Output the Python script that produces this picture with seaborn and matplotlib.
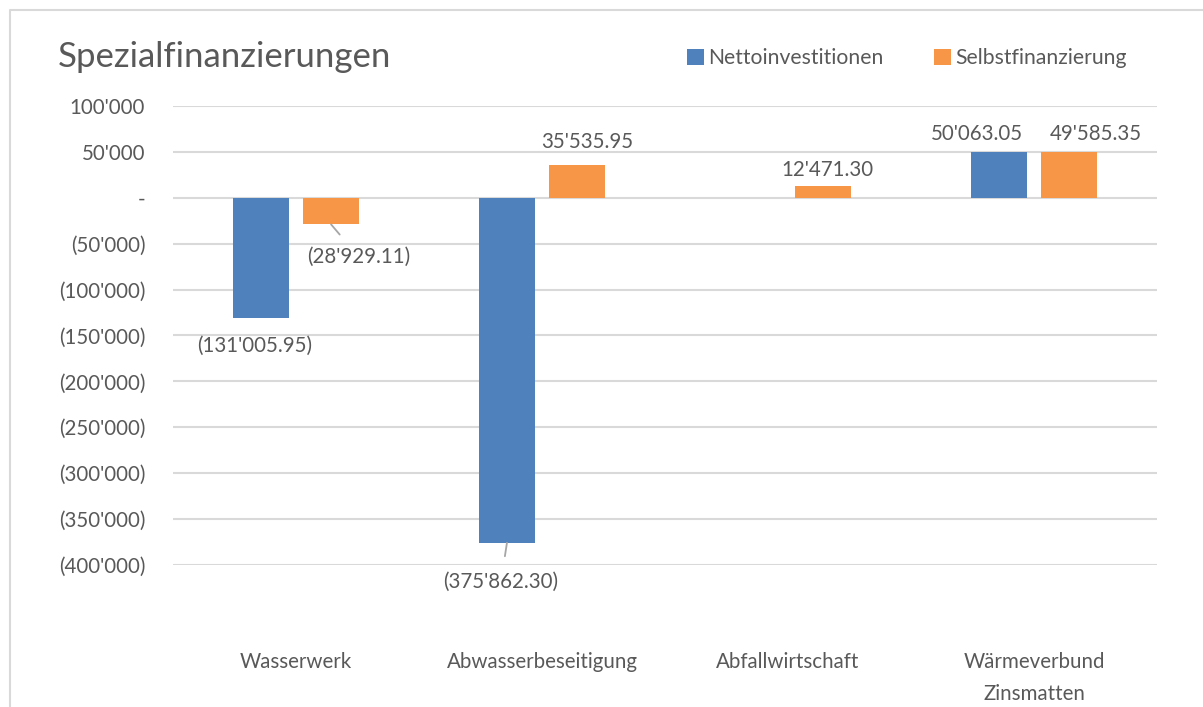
import numpy as np
import pandas as pd
import matplotlib
matplotlib.use("Agg")
import matplotlib.pyplot as plt
import seaborn as sns
from matplotlib.lines import Line2D
from matplotlib.ticker import FuncFormatter

categories = ["Wasserwerk", "Abwasserbeseitigung", "Abfallwirtschaft",
              "Wärmeverbund\nZinsmatten"]
series = ["Nettoinvestitionen", "Selbstfinanzierung"]
netto = [-131005.95, -375862.30, 0.0, 50063.05]
selbst = [-28929.11, 35535.95, 12471.30, 49585.35]
colors = ["#4F81BD", "#F79646"]
text_color = "#595959"
grid_color = "#D9D9D9"


def fmt_num(v, decimals=0):
    """Swiss style number with apostrophes, negatives in brackets."""
    if abs(v) < 1e-9:
        return "-"
    s = "{:,.{}f}".format(abs(v), decimals).replace(",", "'")
    return "({})".format(s) if v < 0 else s


df = pd.DataFrame({
    "Kategorie": categories * 2,
    "Serie": [series[0]] * 4 + [series[1]] * 4,
    "Wert": netto + selbst,
})

sns.set_theme(style="white")
plt.rcParams["font.family"] = ["Lato", "DejaVu Sans"]

fig = plt.figure(figsize=(12.03, 7.07), dpi=100)
ax = fig.add_axes([173 / 1203, 1 - 565 / 707, (1157 - 173) / 1203,
                   (565 - 106) / 707])

sns.barplot(data=df, x="Kategorie", y="Wert", hue="Serie",
            palette=colors, width=0.57, gap=0.21, saturation=1,
            linewidth=0, ax=ax, legend=True)

ax.set_ylim(-400000, 100000)
ax.set_xlim(-0.5, 3.5)
ax.set_yticks(np.arange(-400000, 100001, 50000))
ax.yaxis.set_major_formatter(FuncFormatter(lambda v, p: fmt_num(v)))
ax.grid(axis="y", color=grid_color, linewidth=1.5)
ax.set_axisbelow(True)
for sp in ax.spines.values():
    sp.set_visible(False)
ax.set_xlabel("")
ax.set_ylabel("")
ax.tick_params(axis="y", length=0, pad=20, labelsize=14.8,
               labelcolor=text_color)
ax.tick_params(axis="x", length=0, pad=63, labelsize=14.8,
               labelcolor=text_color)
for t in ax.get_xticklabels():
    t.set_linespacing(1.75)

# data labels: offsets in pixels from the end of each bar
offsets = {
    (0, 0): (-6, -28, False), (0, 1): (28, -33, True),
    (1, 0): (-6, -39, True), (1, 1): (10, 23, False),
    (2, 1): (4, 16, False),
    (3, 0): (-22, 18, False), (3, 1): (27, 18, False),
}
values = [netto, selbst]
for s_idx, cont in enumerate(ax.containers):
    for c_idx, bar in enumerate(cont.patches):
        if (c_idx, s_idx) not in offsets:
            continue
        dx, dy, leader = offsets[(c_idx, s_idx)]
        v = values[s_idx][c_idx]
        x = bar.get_x() + bar.get_width() / 2
        props = None
        if leader:
            props = dict(arrowstyle="-", color="#A6A6A6", lw=1.3,
                         shrinkA=9, shrinkB=0)
        ax.annotate(fmt_num(v, 2), xy=(x, v),
                    xytext=(dx * 0.72, dy * 0.72),
                    textcoords="offset points", ha="center", va="center",
                    fontsize=14.8, color=text_color, arrowprops=props,
                    annotation_clip=False)

handles, labels = ax.get_legend_handles_labels()
ax.get_legend().remove()
fig.legend(handles, labels, loc="center",
           bbox_to_anchor=(907 / 1203, 1 - 58 / 707), ncol=2,
           frameon=False, fontsize=15.2, labelcolor=text_color,
           handlelength=0.8, handleheight=0.8, handletextpad=0.2,
           columnspacing=2.4)

fig.text(58 / 1203, 1 - 57 / 707, "Spezialfinanzierungen", fontsize=25,
         color=text_color, va="center", ha="left")

# light frame of the chart area
fig.add_artist(Line2D([10 / 1203, 10 / 1203, 1.0],
                      [0.0, 1 - 10 / 707, 1 - 10 / 707],
                      transform=fig.transFigure, color=grid_color, lw=1.5))

fig.savefig("out.png", dpi=100, facecolor="white")
